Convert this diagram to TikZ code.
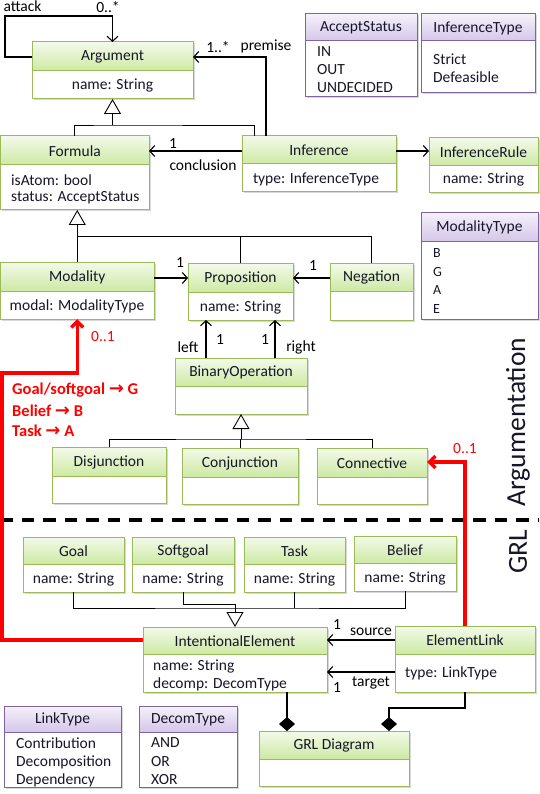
\documentclass[tikz,border=0pt]{standalone}
\usepackage{fontspec}
\setmainfont{Carlito}
\newfontfamily\arrowfont{DejaVu Sans}
\usetikzlibrary{arrows.meta,calc,fit,shadows}
\definecolor{gtop}{HTML}{F3FAEA}
\definecolor{gbot}{HTML}{CDE9A3}
\definecolor{gborder}{HTML}{9BBB59}
\definecolor{ptop}{HTML}{F5F1FA}
\definecolor{pbot}{HTML}{D4C6E9}
\definecolor{pborder}{HTML}{8064A2}
\definecolor{txt}{HTML}{161628}
\definecolor{redc}{HTML}{FF0000}
\tikzset{
 boxbase/.style={inner sep=0pt, outer sep=0pt, fill=white, drop shadow={shadow xshift=1.5pt, shadow yshift=-1.5pt, opacity=.3}},
 ttl/.style={font=\fontsize{15.5}{18}\selectfont, text=txt, inner sep=0pt},
 attr/.style={font=\fontsize{15.5}{18}\selectfont, text=txt, inner sep=0pt},
 item/.style={font=\fontsize{15.5}{18}\selectfont, text=txt, inner sep=0pt, anchor=west},
 smallitem/.style={font=\fontsize{14}{16}\selectfont, text=txt, inner sep=0pt, anchor=west},
 lbl/.style={font=\fontsize{15.5}{18}\selectfont, text=black, inner sep=0pt},
 redlbl/.style={font=\fontsize{15.5}{18}\selectfont, text=redc, inner sep=0pt},
 redbold/.style={font=\fontsize{16.5}{18}\selectfont\bfseries, text=redc, inner sep=0pt, anchor=west},
 plain/.style={draw=black, line width=1.1pt},
 thinline/.style={draw=black, line width=.9pt},
 assocarrow/.style={plain, -{Straight Barb[length=5pt,width=11pt]}},
 gen/.style={draw=black, line width=.9pt, -{Triangle[length=15pt,width=17pt,fill=white]}},
 comp/.style={plain, -{Diamond[length=14pt,width=16pt]}},
 redline/.style={draw=redc, line width=3.5pt},
 redarrow/.style={redline, -{Straight Barb[length=6pt,width=12pt]}},
 side/.style={font=\fontsize{27.5}{30}\selectfont, text=txt, inner sep=0pt, rotate=90},
}
% name, kind, x1, y1, x2, y2, ydiv, title
\newcommand\umlbox[8]{%
  \node[boxbase, fit={(#3,#4) (#5,#6)}] (#1) {};
  \shade[top color=#2top, bottom color=#2bot] (#3,#4) rectangle (#5,#7);
  \draw[#2border, line width=1pt] (#3,#4) rectangle (#5,#6) (#3,#7) -- (#5,#7);
  \node[ttl] (#1-t) at ({(#3+#5)/2},{(#4+#7)/2+0.5}) {#8};
}
\newcommand\redarr{{\arrowfont\fontsize{18}{18}\selectfont →}}
\begin{document}
\begin{tikzpicture}[x=1pt,y=-1pt]
\fill[white] (0,0) rectangle (539,794);
\useasboundingbox (0,0) rectangle (539,794);

% ---------- classes ----------
\umlbox{arg}{g}{32}{42}{193}{99}{71}{Argument}
\node[attr] (arg-a) at (112.5,86) {name: String};

\umlbox{form}{g}{0.5}{136}{149}{210}{165}{Formula}
\node[item] (form-a1) at (11,180) {isAtom: bool};
\node[item] (form-a2) at (11,198) {status: AcceptStatus};

\umlbox{inf}{g}{242}{136}{396}{192}{164}{Inference}
\node[attr] (inf-a) at (316,179) {type: InferenceType};

\umlbox{irule}{g}{429}{138}{538}{193}{166}{InferenceRule}
\node[attr] (irule-a) at (483.5,180) {name: String};

\umlbox{acc}{p}{305}{14}{417}{97}{41}{AcceptStatus}
\node[item] (acc-1) at (317,52) {IN};
\node[item] (acc-2) at (317,70) {OUT};
\node[item] (acc-3) at (317,88) {UNDECIDED};

\umlbox{itype}{p}{421}{14}{535}{93}{41}{InferenceType}
\node[item] (itype-1) at (433,59) {Strict};
\node[item] (itype-2) at (433,77) {Defeasible};

\umlbox{mod}{g}{0.5}{262}{154}{319}{291}{Modality}
\node[attr] (mod-a) at (77,306) {modal: ModalityType};

\umlbox{prop}{g}{188}{263}{293}{320}{292}{Proposition}
\node[attr] (prop-a) at (240.5,307) {name: String};

\umlbox{neg}{g}{330}{263}{413}{320}{291}{Negation}

\umlbox{mtype}{p}{421}{213}{538}{319}{241}{ModalityType}
\node[smallitem] (mtype-1) at (433,253) {B};
\node[smallitem] (mtype-2) at (433,272) {G};
\node[smallitem] (mtype-3) at (433,290) {A};
\node[smallitem] (mtype-4) at (433,309) {E};

\umlbox{binop}{g}{175}{358}{307}{414}{386}{BinaryOperation}

\umlbox{disj}{g}{52}{447}{166}{503}{476}{Disjunction}
\umlbox{conj}{g}{182}{448}{298}{504}{477}{Conjunction}
\umlbox{conn}{g}{317}{448}{427}{504}{477}{Connective}

\umlbox{goal}{g}{23}{537}{124}{592}{564}{Goal}
\node[attr] (goal-a) at (73.5,579) {name: String};
\umlbox{soft}{g}{132}{537}{234}{592}{564}{Softgoal}
\node[attr] (soft-a) at (183,579) {name: String};
\umlbox{task}{g}{244}{537}{345}{592}{564}{Task}
\node[attr] (task-a) at (294.5,579) {name: String};
\umlbox{bel}{g}{354}{536}{456}{591}{563}{Belief}
\node[attr] (bel-a) at (405,578) {name: String};

\umlbox{ie}{g}{143}{627}{327}{692}{654}{IntentionalElement}
\node[item] (ie-a1) at (153,666) {name: String};
\node[item] (ie-a2) at (153,684) {decomp: DecomType};

\umlbox{el}{g}{395}{626}{535}{692}{654}{ElementLink}
\node[item] (el-a) at (405,673) {type: LinkType};

\umlbox{lt}{p}{4}{706}{121}{787}{732}{LinkType}
\node[item] (lt-1) at (16,743) {Contribution};
\node[item] (lt-2) at (16,762) {Decomposition};
\node[item] (lt-3) at (16,780) {Dependency};

\umlbox{dt}{p}{139}{706}{237}{787}{732}{DecomType}
\node[item] (dt-1) at (151,743) {AND};
\node[item] (dt-2) at (151,762) {OR};
\node[item] (dt-3) at (151,780) {XOR};

\umlbox{grl}{g}{259}{731}{409}{786}{759}{GRL Diagram}

% ---------- connectors (argumentation) ----------
\coordinate (atk) at (5,16);
\draw[assocarrow] ($(arg.north west)+(0,15)$) -| (atk) -| (arg.north);
\node[lbl] (l-attack) at (22.5,6) {attack};
\node[lbl] (l-atkm) at (108,7) {0..*};

\draw[assocarrow] ($(inf.north west)+(24,0)$) |- ($(arg.north east)+(0,15)$);
\node[lbl] (l-prem1) at (218,47) {1..*};
\node[lbl] (l-prem) at (266,46) {premise};

\draw[assocarrow] ($(inf.north west)+(0,15)$) -- ($(form.north east)+(0,15)$);
\node[lbl] (l-conc1) at (173,144) {1};
\node[lbl] (l-conc) at (203,165) {conclusion};

\draw[assocarrow] ($(inf.north east)+(0,15)$) -- ($(irule.north west)+(0,13)$);

\coordinate (g1) at (112.5,125);
\draw[gen] (g1) -- (arg.south);
\draw[thinline] (form.north) |- (g1) -| ($(inf.north west)+(12,0)$);

\coordinate (g2) at (77,236);
\draw[gen] (mod.north) -- (mod.north |- form.south);
\draw[thinline] (g2) -| (neg.north);
\draw[thinline] (prop.north) -- (prop.north |- g2);

\draw[assocarrow] ($(mod.north east)+(0,16)$) -- ($(prop.north west)+(0,15)$);
\node[lbl] (l-mod1) at (180,263) {1};
\draw[assocarrow] ($(neg.north west)+(0,15)$) -- ($(prop.north east)+(0,15)$);
\node[lbl] (l-neg1) at (313,266) {1};

\draw[assocarrow] ($(binop.north west)+(31,0)$) -- ($(prop.south west)+(18,0)$);
\draw[assocarrow] ($(binop.north west)+(100,0)$) -- ($(prop.south west)+(87,0)$);
\node[lbl] (l-left) at (188,347) {left};
\node[lbl] (l-left1) at (220,340) {1};
\node[lbl] (l-right1) at (265,340) {1};
\node[lbl] (l-right) at (301,347) {right};

\coordinate (g3) at ($(binop.south)+(0,25)$);
\draw[gen] (g3) -- (binop.south);
\draw[thinline] (disj.north) |- (g3) -| (conn.north);
\draw[thinline] (conj.north) -- (conj.north |- g3);

% ---------- connectors (GRL) ----------
\coordinate (g4) at ($(ie.north)+(0,-19)$);
\draw[gen] (g4) -- (ie.north);
\draw[thinline] (goal.south) |- (g4) -| (bel.south);
\draw[thinline] (task.south) -- (task.south |- g4);
\draw[thinline] (soft.south) |- ($(g4)+(0,-4)$) -- (g4);

\draw[assocarrow] ($(el.north west)+(0,14)$) -- ($(ie.north east)+(0,13)$);
\node[lbl] (l-src1) at (337,625) {1};
\node[lbl] (l-src) at (371,632) {source};
\draw[assocarrow] ($(el.north west)+(0,46)$) -- ($(ie.north east)+(0,45)$);
\node[lbl] (l-tgt1) at (337,688) {1};
\node[lbl] (l-tgt) at (371,683) {target};

\draw[comp] ($(ie.south west)+(144,0)$) -- ($(grl.north west)+(28,0)$);
\draw[comp] (el.south) -- ++(0,16) -| ($(grl.north west)+(130,0)$);

% ---------- separator ----------
\coordinate (sepL) at (0,520);
\coordinate (sepR) at (539,520);
\draw[line width=4pt, dash pattern=on 12.5pt off 9pt] (sepL) -- (sepR);
\node[side] (t-arg) at (518,422) {Argumentation};
\node[side] (t-grl) at (518,552) {GRL};

% ---------- red mapping ----------
\coordinate (rc) at (1.75,373);
\draw[redarrow] ($(ie.north west)+(0,13)$) -| (rc) -| (mod.south);
\node[redlbl] (r-m1) at (103,337) {0..1};
\draw[redarrow] (el.north) |- ($(conn.north east)+(0,14)$);
\node[redlbl] (r-m2) at (465,449) {0..1};
\node[redbold] (r-1) at (12,390) {Goal/softgoal \redarr{} G};
\node[redbold] (r-2) at (12,411) {Belief \redarr{} B};
\node[redbold] (r-3) at (12,431) {Task \redarr{} A};
\end{tikzpicture}
\end{document}
